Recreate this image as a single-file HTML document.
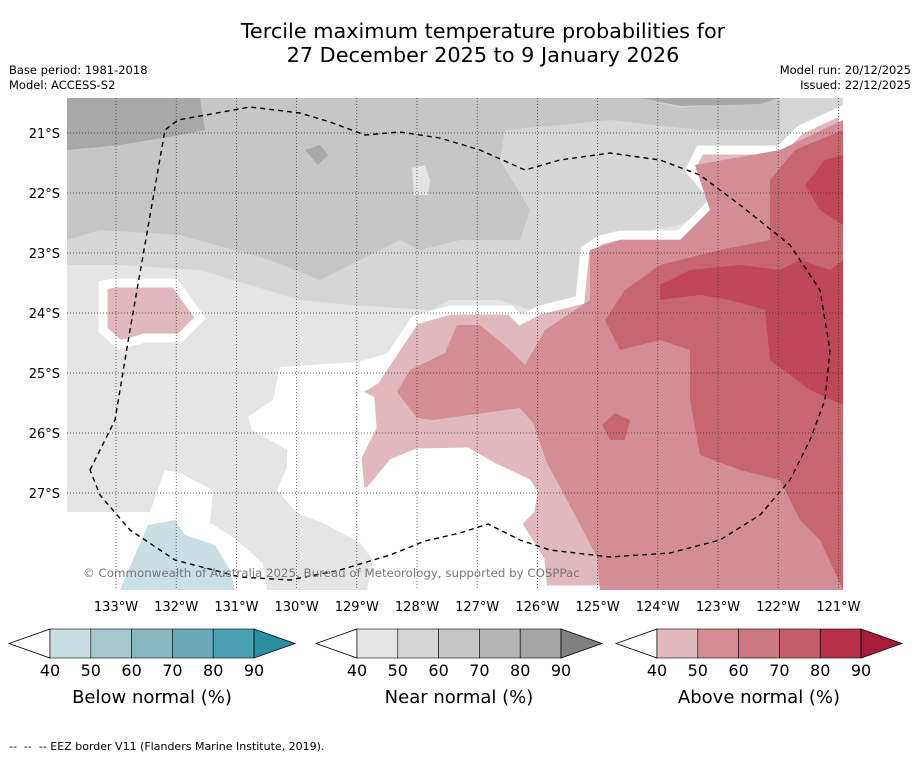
<!DOCTYPE html>
<html><head><meta charset="utf-8"><style>
html,body{margin:0;padding:0;background:#fff;}
body{width:919px;height:758px;position:relative;overflow:hidden;font-family:"DejaVu Sans","Liberation Sans",sans-serif;}
.t{position:absolute;color:#000;}
</style></head><body>
<div class="t" style="left:0;width:966px;top:19px;text-align:center;font-size:20.8px;line-height:24px;">Tercile maximum temperature probabilities for<br>27 December 2025 to 9 January 2026</div>
<div class="t" style="left:9px;top:63px;font-size:11.5px;line-height:15px;">Base period: 1981-2018<br>Model: ACCESS-S2</div>
<div class="t" style="right:8px;top:63px;font-size:11.5px;line-height:15px;text-align:right;">Model run: 20/12/2025<br>Issued: 22/12/2025</div>
<svg width="919" height="758" style="position:absolute;left:0;top:0">
<defs><clipPath id="mc"><rect x="67" y="98" width="776" height="492"/></clipPath></defs>
<g clip-path="url(#mc)">
<rect x="67" y="98" width="776" height="492" fill="#e5e5e5"/>
<polygon fill="#d6d6d6" points="67,98 843,98 843,120 780,150 720,150 690,170 720,200 680,225 600,240 580,260 575,300 530,310 500,300 450,300 430,310 350,305 300,300 200,270 120,265 67,265"/>
<polygon fill="#c6c6c6" points="67,98 640,98 680,108 780,100 780,130 700,130 610,120 560,125 505,130 500,160 530,210 520,240 460,240 420,250 400,240 360,260 320,280 270,260 180,235 100,230 67,240"/>
<polygon fill="#e5e5e5" points="412,168 425,165 430,180 428,195 414,195"/>
<polygon fill="#a8a8a8" points="67,98 200,98 205,130 180,135 120,145 67,150"/>
<polygon fill="#a8a8a8" points="640,98 780,98 760,104 680,106"/>
<polygon fill="#a8a8a8" points="305,150 320,145 328,155 318,165"/>
<polygon fill="#fff" points="67,512 150,512 165,470 180,473 213,490 210,523 233,537 263,563 267,590 67,590"/>
<polygon fill="#fff" points="280,367 357,362 400,350 420,320 560,320 560,590 367,590 373,560 360,543 323,523 297,513 277,490 287,467 287,450 252,430 248,417 273,400"/>
<polygon fill="#e0b8bd" stroke="#fff" stroke-width="9" points="355,392 375,380 415,320 450,310 510,310 520,320 540,310 580,300 585,250 600,240 620,235 680,235 715,200 690,170 700,150 780,150 800,130 843,110 843,590 543,590 540,560 517,523 530,510 533,493 527,483 493,467 467,452 417,453 393,463 368,493 360,490 357,457 372,427 370,400"/>
<polygon fill="#e0b8bd" stroke="#fff" stroke-width="9" points="103,285 115,283 175,283 200,318 180,338 145,338 120,345 103,330"/>
<polygon fill="#d48d94" points="397,392 410,370 445,353 457,325 480,325 510,350 525,365 545,330 590,300 590,250 620,240 680,240 710,210 695,165 780,150 843,120 843,590 600,590 597,557 567,500 547,463 533,423 520,408 433,420 417,418"/>
<polygon fill="#c8666f" points="605,320 625,290 660,265 720,250 770,240 770,180 795,150 843,130 843,590 820,540 800,520 780,480 740,470 700,455 690,400 690,350 660,340 620,350"/>
<polygon fill="#c8666f" points="602,425 615,413 630,420 625,440 610,440"/>
<polygon fill="#c04759" points="660,285 690,270 740,265 780,270 800,260 830,270 843,260 843,405 810,390 770,360 765,310 730,300 700,295 660,300"/>
<polygon fill="#c04759" points="805,185 825,160 843,155 843,225 820,210"/>
<polygon fill="#c8dfe4" points="120,590 135,555 148,525 175,520 185,535 215,545 230,570 235,590"/>
<g id="grid" stroke="#333" stroke-width="0.7" stroke-dasharray="1,2"></g>
<polyline fill="none" stroke="#000" stroke-width="1.4" stroke-dasharray="5,4" points="90,470 115,420 130,330 165,130 178,120 250,107 300,113 330,122 365,135 400,132 440,138 480,150 525,170 560,160 610,153 660,160 700,175 740,205 790,245 820,290 830,350 825,400 810,440 790,480 760,515 720,540 670,553 610,557 550,550 520,540 488,524 460,533 425,541 390,555 340,570 290,580 240,577 175,560 130,530 100,495 90,470"/>
<text x="83" y="577" font-size="11.8" fill="#777" font-family="DejaVu Sans, sans-serif">© Commonwealth of Australia 2025, Bureau of Meteorology, supported by COSPPac</text>
</g>
<g id="labels" font-family="DejaVu Sans, sans-serif" font-size="13" fill="#000"></g>
<g id="bars" font-family="DejaVu Sans, sans-serif"></g>
</svg>
<div class="t" style="left:9px;top:740px;font-size:11px;">-- &nbsp;-- &nbsp;-- EEZ border V11 (Flanders Marine Institute, 2019).</div>
<script>
const lonLabels=["133°W","132°W","131°W","130°W","129°W","128°W","127°W","126°W","125°W","124°W","123°W","122°W","121°W"];
const latLabels=["21°S","22°S","23°S","24°S","25°S","26°S","27°S"];
const tickValues=["40","50","60","70","80","90"];
const belowColors=["#c8dfe4","#a7c8cc","#8ab8c2","#6aaab8","#48a0b0","#2b8fa0"];
const nearColors=["#e5e5e5","#d6d6d6","#c6c6c6","#b5b5b5","#a5a5a5","#808080"];
const aboveColors=["#e0b8bd","#d48d94","#cd7780","#c55d6a","#b73048","#a51c38"];
const NS="http://www.w3.org/2000/svg";
function mk(tag,at,parent){const e=document.createElementNS(NS,tag);for(const k in at)e.setAttribute(k,at[k]);parent.appendChild(e);return e;}
const xOf=i=>116+i*60.2, yOf=i=>133+i*60;
const grid=document.getElementById('grid'), labels=document.getElementById('labels');
lonLabels.forEach((l,i)=>{
 const ln=mk('line',{x1:xOf(i),x2:xOf(i),y1:98,y2:590},grid);
 
 
 const t=mk('text',{x:xOf(i),y:611,'text-anchor':'middle'},labels);t.textContent=l;
 
 
});
latLabels.forEach((l,i)=>{
 const ln=mk('line',{x1:67,x2:843,y1:yOf(i),y2:yOf(i)},grid);
 
 
 const t=mk('text',{x:60,y:yOf(i)+5,'text-anchor':'end'},labels);t.textContent=l;
 
 
});
const bars=document.getElementById('bars');
[[9,belowColors,"Below normal (%)","below-colorbar"],[316,nearColors,"Near normal (%)","near-colorbar"],[616,aboveColors,"Above normal (%)","above-colorbar"]].forEach(([x0,cols,title,name])=>{
 const g=mk('g',{},bars);
 
 
 const L=x0+41,w=40.8,top=629,h=29,mid=top+h/2,R=L+5*w;
 mk('polygon',{points:`${x0},${mid} ${L},${top} ${L},${top+h}`,fill:'#fff',stroke:'#000','stroke-width':0.8},g);
 for(let i=0;i<5;i++){mk('rect',{x:L+i*w,y:top,width:w,height:h,fill:cols[i],stroke:'#000','stroke-width':0.6},g);}
 mk('polygon',{points:`${R},${top} ${R+41},${mid} ${R},${top+h}`,fill:cols[5],stroke:'#000','stroke-width':0.8},g);
 tickValues.forEach((v,i)=>{const t=mk('text',{x:L+i*w,y:676,'text-anchor':'middle','font-size':16},g);t.textContent=v;
  
  });
 const tt=mk('text',{x:L+2.5*w,y:703,'text-anchor':'middle','font-size':18},g);tt.textContent=title;
 
 
});
</script>
</body></html>
